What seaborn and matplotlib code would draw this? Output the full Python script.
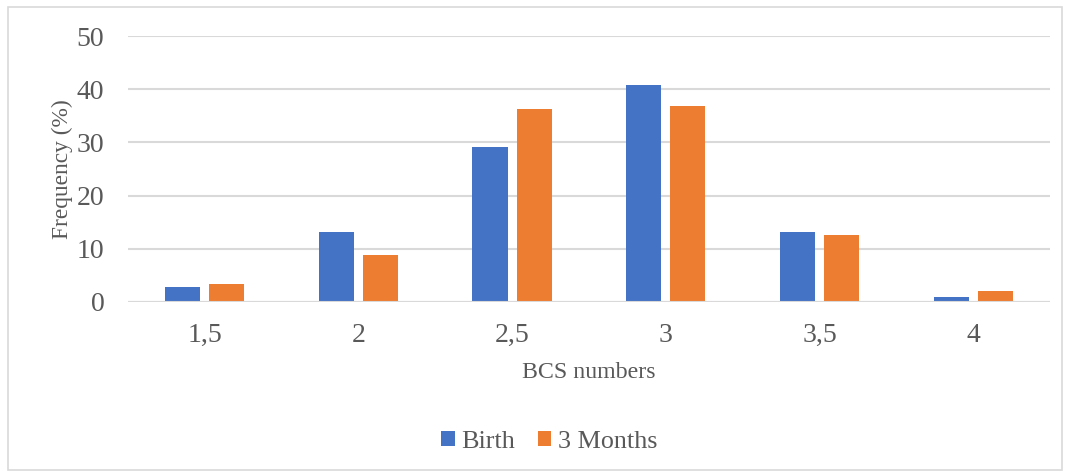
import matplotlib
matplotlib.use("Agg")
import matplotlib.pyplot as plt
import seaborn as sns
import pandas as pd
from matplotlib.patches import Rectangle

categories = ["1,5", "2", "2,5", "3", "3,5", "4"]
birth = [2.8, 13.1, 29.2, 40.7, 13.1, 0.9]
months3 = [3.4, 8.9, 36.2, 36.9, 12.5, 2.1]
series_names = ["Birth", "3 Months"]
yticks = [0, 10, 20, 30, 40, 50]

df = pd.DataFrame({
    "BCS": categories * 2,
    "value": birth + months3,
    "series": [series_names[0]] * len(categories) + [series_names[1]] * len(categories),
})

sns.set_theme(style="white")
plt.rcParams["font.family"] = ["Liberation Serif", "DejaVu Serif"]

text_color = "#595959"
grid_color = "#d9d9d9"

fig = plt.figure(figsize=(10.66, 4.74), dpi=100)
ax = fig.add_axes([0.12, 0.363, 0.865, 0.561])

sns.barplot(data=df, x="BCS", y="value", hue="series", order=categories,
            hue_order=series_names, palette=["#4472c4", "#ed7d31"],
            saturation=1, width=0.573, gap=0.2, ax=ax, legend=True, zorder=3,
            edgecolor="none")

ax.set_ylim(0, 50)
ax.set_xlim(-0.5, len(categories) - 0.5)
ax.set_yticks(yticks)
ax.set_yticklabels([str(t) for t in yticks])
ax.grid(axis="y", color=grid_color, linewidth=1.5, zorder=0)
ax.set_axisbelow(True)
for s in ["top", "right", "left", "bottom"]:
    ax.spines[s].set_visible(False)
ax.axhline(0, color=grid_color, linewidth=1.5, zorder=4)
ax.tick_params(axis="both", length=0, labelsize=20, colors=text_color)
ax.tick_params(axis="x", pad=15)
ax.tick_params(axis="y", pad=17)
ax.set_xlabel("BCS numbers", fontsize=17.2, color=text_color, labelpad=10)
ax.set_ylabel("Frequency (%)", fontsize=16.8, color=text_color)
ax.yaxis.set_label_coords(-0.06, 0.5)

leg = ax.legend(loc="center", bbox_to_anchor=(0.457, -0.525), ncol=2, frameon=False,
                fontsize=18.8, handlelength=0.5, handleheight=0.5, handletextpad=0.27,
                columnspacing=0.85)
for t in leg.get_texts():
    t.set_color(text_color)

fig.patches.append(Rectangle((8 / 1066, 4 / 474), 1054 / 1066, 463 / 474,
                             transform=fig.transFigure, fill=False,
                             edgecolor=grid_color, linewidth=1.2))

fig.savefig("out.png", dpi=100)
